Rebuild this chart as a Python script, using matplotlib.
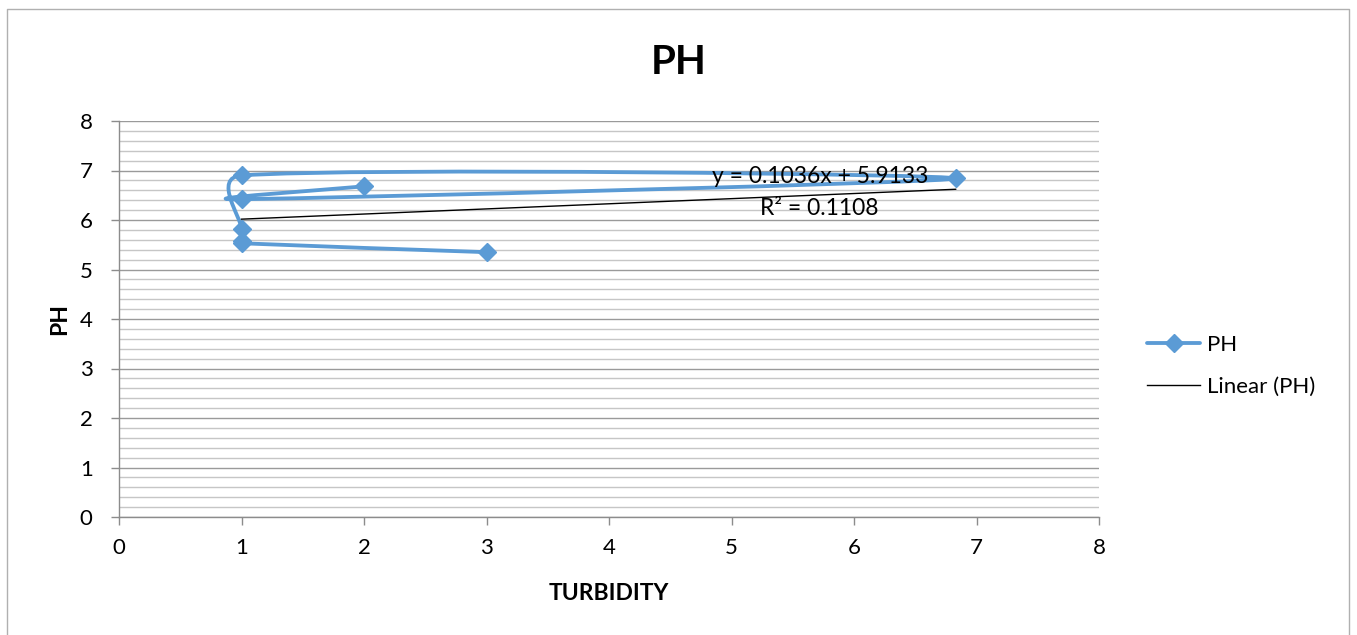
import numpy as np
import matplotlib
matplotlib.use("Agg")
import matplotlib.pyplot as plt
from matplotlib.path import Path
from matplotlib.patches import PathPatch
from matplotlib.lines import Line2D

plt.rcParams["font.family"] = ["Lato", "DejaVu Sans"]

# data, in the order the series was plotted
turbidity = [3, 1, 1, 1, 1, 6.83, 1, 2]
ph = [5.35, 5.53, 5.58, 5.82, 6.9, 6.84, 6.42, 6.68]

# linear trend shown on the chart
slope = 0.1036
intercept = 5.9133
r2 = 0.1108

x_ticks = [0, 1, 2, 3, 4, 5, 6, 7, 8]
y_ticks = [0, 1, 2, 3, 4, 5, 6, 7, 8]

BLUE = "#5B9BD5"
W, H = 1357, 635


def smooth_path(ax, xs, ys, tension=1 / 6, cap=0.55):
    # excel-like smoothed line: catmull-rom bezier, control arm capped by segment length (pixels)
    pts = np.column_stack([xs, ys]).astype(float)
    scale = np.abs(np.diff(ax.transData.transform([[0, 0], [1, 1]]), axis=0)[0])
    n = len(pts)

    def arm(vec, seg_len):
        v = vec * tension
        L = np.hypot(*(v * scale))
        if L > cap * seg_len and L > 0:
            v = v * cap * seg_len / L
        return v

    verts = [pts[0]]
    codes = [Path.MOVETO]
    for i in range(n - 1):
        p0 = pts[i - 1] if i > 0 else pts[i]
        p3 = pts[i + 2] if i + 2 < n else pts[i + 1]
        seg = np.hypot(*((pts[i + 1] - pts[i]) * scale))
        c1 = pts[i] + arm(pts[i + 1] - p0, seg)
        c2 = pts[i + 1] - arm(p3 - pts[i], seg)
        verts += [c1, c2, pts[i + 1]]
        codes += [Path.CURVE4] * 3
    return Path(verts, codes)


fig = plt.figure(figsize=(W / 100, H / 100), dpi=100)
ax = fig.add_axes([119 / W, 1 - 517 / H, 980 / W, 396 / H])
ax.set_xlim(0, 8)
ax.set_ylim(0, 8)

# grid
ax.set_yticks(y_ticks)
ax.set_yticks(np.arange(0, 8.01, 0.2), minor=True)
ax.set_xticks(x_ticks)
ax.grid(axis="y", which="major", color="#9a9a9a", lw=1.0)
ax.grid(axis="y", which="minor", color="#c6c6c6", lw=1.0)
ax.set_axisbelow(True)

for s in ["top", "right"]:
    ax.spines[s].set_visible(False)
for s in ["left", "bottom"]:
    ax.spines[s].set_color("#8c8c8c")
    ax.spines[s].set_linewidth(1.0)

ax.tick_params(axis="both", which="major", direction="out", color="#8c8c8c",
               length=6, width=1.0, labelsize=16)
ax.tick_params(axis="y", which="major", pad=13)
ax.tick_params(axis="x", which="major", pad=9)
ax.tick_params(axis="y", which="minor", length=0)

# series
patch = PathPatch(smooth_path(ax, turbidity, ph), facecolor="none", edgecolor=BLUE,
                  lw=2.75, capstyle="round", joinstyle="round", zorder=3)
ax.add_patch(patch)
ax.plot(turbidity, ph, linestyle="none", marker="D", ms=9, color=BLUE, zorder=4)

# trend line
tx = np.array([min(turbidity), max(turbidity)])
ax.plot(tx, slope * tx + intercept, color="black", lw=1.0, zorder=3)
ax.text(5.72, 6.75, f"y = {slope}x + {intercept}", fontsize=16.5, ha="center",
        va="baseline")
ax.text(5.72, 6.10, f"R² = {r2}", fontsize=16.5, ha="center", va="baseline")

# labels
fig.text(678.5 / W, 1 - 74 / H, "PH", fontsize=29, fontweight="bold", ha="center",
         va="baseline")
ax.set_xlabel("TURBIDITY", fontsize=16.5, fontweight="bold")
ax.xaxis.label.set_va("baseline")
ax.xaxis.set_label_coords(0.5, (517 - 600) / 396)
ax.set_ylabel("PH", fontsize=16.5, fontweight="bold")
ax.yaxis.set_label_coords((70 - 119) / 980, 0.5)

handles = [
    Line2D([], [], color=BLUE, lw=2.75, marker="D", ms=9, solid_capstyle="round"),
    Line2D([], [], color="black", lw=1.0),
]
fig.legend(handles, ["PH", "Linear (PH)"], loc="center left",
           bbox_to_anchor=(1127 / W, 1 - 366 / H), frameon=False, fontsize=16,
           handlelength=2.4, handletextpad=0.3, labelspacing=1.0, numpoints=1)

# outer chart border
bx0, bx1, by1 = 7 / W, 1349 / W, 1 - 9 / H
fig.add_artist(Line2D([bx0, bx0, bx1, bx1], [0, by1, by1, 0], color="#b0b0b0",
                      lw=1.0, transform=fig.transFigure))

fig.savefig("out.png", dpi=100)
